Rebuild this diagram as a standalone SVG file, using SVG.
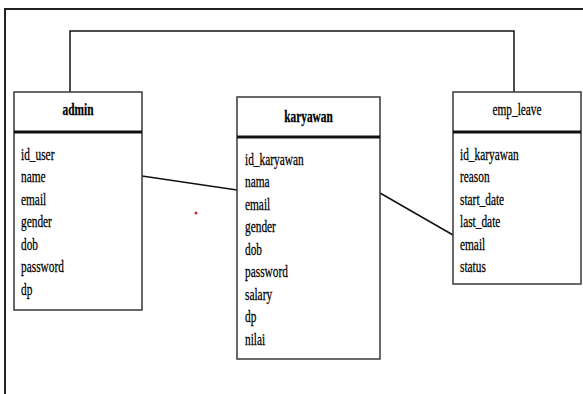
<svg xmlns="http://www.w3.org/2000/svg" width="583" height="394" viewBox="0 0 583 394">
<style>
.box{fill:#fff;stroke:#444;stroke-width:1.6}
.sep{stroke:#111;stroke-width:3}
.conn{fill:none;stroke:#111;stroke-width:1.5}
.frame{fill:none;stroke:#222;stroke-width:2}
text{font-family:"Liberation Serif","Times New Roman",serif;font-size:16px;fill:#000;stroke:#000;stroke-width:0.25}
.title{text-anchor:middle}
.bold{font-weight:bold}
</style>
<rect width="583" height="394" fill="#fff"/>
<g id="frame">
<line class="frame" x1="5" y1="9" x2="5" y2="394"/>
<line class="frame" x1="4" y1="9" x2="583" y2="9" stroke-width="1.5"/>
</g>
<g id="connectors">
<polyline class="conn" points="70,92 70,31 514,31 514,92"/>
<line class="conn" x1="142" y1="176" x2="237" y2="190"/>
<line class="conn" x1="380" y1="193" x2="453" y2="235"/>
</g>
<g id="admin">
<rect class="box" x="14" y="92" width="128" height="218"/>
<line class="sep" x1="14" y1="132" x2="142" y2="132"/>
<g transform="translate(78 115) scale(0.71 1)"><text class="title bold" x="0" y="0">admin</text></g>
<g transform="translate(21 160) scale(0.71 1)">
<text x="0" y="0">id_user</text>
<text x="0" y="22.5">name</text>
<text x="0" y="45">email</text>
<text x="0" y="67.5">gender</text>
<text x="0" y="90">dob</text>
<text x="0" y="112.5">password</text>
<text x="0" y="135">dp</text>
</g>
</g>
<g id="karyawan">
<rect class="box" x="237" y="97" width="143" height="262"/>
<line class="sep" x1="237" y1="137" x2="380" y2="137"/>
<g transform="translate(308.5 122) scale(0.71 1)"><text class="title bold" x="0" y="0">karyawan</text></g>
<g transform="translate(245 165) scale(0.71 1)">
<text x="0" y="0">id_karyawan</text>
<text x="0" y="22.5">nama</text>
<text x="0" y="45">email</text>
<text x="0" y="67.5">gender</text>
<text x="0" y="90">dob</text>
<text x="0" y="112.5">password</text>
<text x="0" y="135">salary</text>
<text x="0" y="157.5">dp</text>
<text x="0" y="180">nilai</text>
</g>
</g>
<g id="emp_leave">
<rect class="box" x="453" y="92" width="128" height="192"/>
<line class="sep" x1="453" y1="132" x2="581" y2="132"/>
<g transform="translate(517 115) scale(0.71 1)"><text class="title" x="0" y="0">emp_leave</text></g>
<g transform="translate(460 160) scale(0.71 1)">
<text x="0" y="0">id_karyawan</text>
<text x="0" y="22.5">reason</text>
<text x="0" y="45">start_date</text>
<text x="0" y="67.5">last_date</text>
<text x="0" y="90">email</text>
<text x="0" y="112.5">status</text>
</g>
</g>
<circle cx="196" cy="213" r="1.5" fill="#e02020"/>
</svg>
